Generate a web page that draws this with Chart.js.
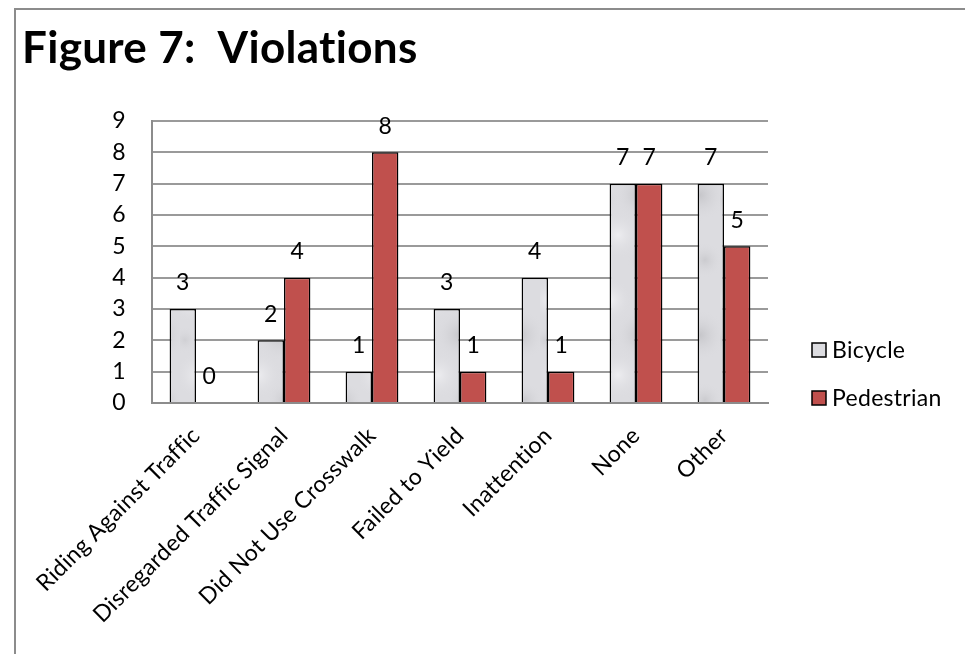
<!DOCTYPE html>
<html>
<head>
<meta charset="utf-8">
<script src="https://cdn.jsdelivr.net/npm/chart.js@4"></script>
<style>
  html, body { margin: 0; padding: 0; background: #fff; }
  #wrap { position: relative; width: 965px; height: 654px; }
  canvas { display: block; }
</style>
</head>
<body>
<div id="wrap"><canvas id="c" width="965" height="654"></canvas></div>
<script>
const titleText = 'Figure 7:  Violations';
const categories = ['Riding Against Traffic', 'Disregarded Traffic Signal', 'Did Not Use Crosswalk', 'Failed to Yield', 'Inattention', 'None', 'Other'];
const bicycleValues = [3, 2, 1, 3, 4, 7, 7];
const pedestrianValues = [0, 4, 8, 1, 1, 7, 5];
const seriesNames = ['Bicycle', 'Pedestrian'];
const yTicks = [0, 1, 2, 3, 4, 5, 6, 7, 8, 9];

const FONT = 'Lato, "Open Sans", sans-serif';
const FS = 23;
const bikeBase = '#DCDCE0';
const pedColor = '#C0504D';

// soft marble-like fill for the bicycle bars (decoration only)
function makeMarble() {
  const c = document.createElement('canvas');
  c.width = 60; c.height = 140;
  const g = c.getContext('2d');
  g.fillStyle = bikeBase;
  g.fillRect(0, 0, 60, 140);
  const spots = [[10, 20, 22, '#efeff2'], [40, 55, 26, '#c6c6ca'], [18, 95, 24, '#ededf0'], [45, 120, 18, '#cbcbcf'], [5, 60, 14, '#d0d0d4']];
  spots.forEach(([x, y, r, col]) => {
    const rg = g.createRadialGradient(x, y, 0, x, y, r);
    rg.addColorStop(0, col);
    rg.addColorStop(1, 'rgba(220,220,224,0)');
    g.fillStyle = rg;
    g.fillRect(0, 0, 60, 140);
  });
  return c;
}

const decorPlugin = {
  id: 'decor',
  beforeDraw(chart) {
    const ctx = chart.ctx;
    try { ctx.letterSpacing = '0.3px'; } catch (e) {}
    ctx.save();
    ctx.strokeStyle = '#8c8c8c';
    ctx.lineWidth = 2;
    ctx.beginPath();
    ctx.moveTo(15, 654);
    ctx.lineTo(15, 9);
    ctx.lineTo(965, 9);
    ctx.stroke();
    ctx.fillStyle = '#000';
    ctx.font = 'bold 44px ' + FONT;
    ctx.textBaseline = 'alphabetic';
    ctx.textAlign = 'left';
    ctx.fillText(titleText, 22, 63);
    ctx.restore();
  },
  afterDatasetsDraw(chart) {
    const ctx = chart.ctx;
    ctx.save();
    ctx.fillStyle = '#000';
    ctx.font = FS + 'px ' + FONT;
    ctx.textAlign = 'center';
    ctx.textBaseline = 'middle';
    chart.data.datasets.forEach((ds, di) => {
      const meta = chart.getDatasetMeta(di);
      meta.data.forEach((bar, i) => {
        ctx.fillText(String(ds.data[i]), bar.x, bar.y - 26);
      });
    });
    const items = [
      { label: seriesNames[0], color: bikeBase, y: 350 },
      { label: seriesNames[1], color: pedColor, y: 398 }
    ];
    ctx.textAlign = 'left';
    items.forEach(it => {
      ctx.fillStyle = it.color;
      ctx.fillRect(812, it.y - 7, 14, 14);
      ctx.strokeStyle = '#000';
      ctx.lineWidth = 1.5;
      ctx.strokeRect(812, it.y - 7, 14, 14);
      ctx.fillStyle = '#000';
      ctx.font = FS + 'px ' + FONT;
      ctx.fillText(it.label, 832, it.y + 1);
    });
    ctx.restore();
  }
};

const chartCtx = document.getElementById('c').getContext('2d');
const marble = chartCtx.createPattern(makeMarble(), 'repeat');

new Chart(document.getElementById('c'), {
  type: 'bar',
  data: {
    labels: categories,
    datasets: [
      { label: seriesNames[0], data: bicycleValues, backgroundColor: marble, borderColor: '#000', borderWidth: 1.5 },
      { label: seriesNames[1], data: pedestrianValues, backgroundColor: pedColor, borderColor: '#000', borderWidth: 1.5 }
    ]
  },
  options: {
    responsive: false,
    animation: false,
    devicePixelRatio: 1,
    layout: { padding: { top: 121, left: 22, right: 197, bottom: 0 } },
    datasets: { bar: { categoryPercentage: 0.6, barPercentage: 1.0 } },
    plugins: {
      legend: { display: false },
      title: { display: false },
      tooltip: { enabled: false }
    },
    scales: {
      x: {
        grid: { display: false, drawTicks: false },
        border: { display: true, color: '#8c8c8c', width: 2 },
        ticks: {
          color: '#000',
          font: { family: FONT, size: FS },
          maxRotation: 45, minRotation: 45,
          autoSkip: false,
          padding: 19
        },
        afterFit(scale) { scale.height = 251; }
      },
      y: {
        min: 0, max: 9,
        afterBuildTicks(scale) { scale.ticks = yTicks.map(v => ({ value: v })); },
        grid: { color: '#9a9a9a', lineWidth: 2, drawTicks: false },
        border: { display: true, color: '#8c8c8c', width: 2 },
        ticks: {
          color: '#000',
          font: { family: FONT, size: FS },
          padding: 26
        },
        afterFit(scale) { scale.width = 130; }
      }
    }
  },
  plugins: [decorPlugin]
});
</script>
</body>
</html>
